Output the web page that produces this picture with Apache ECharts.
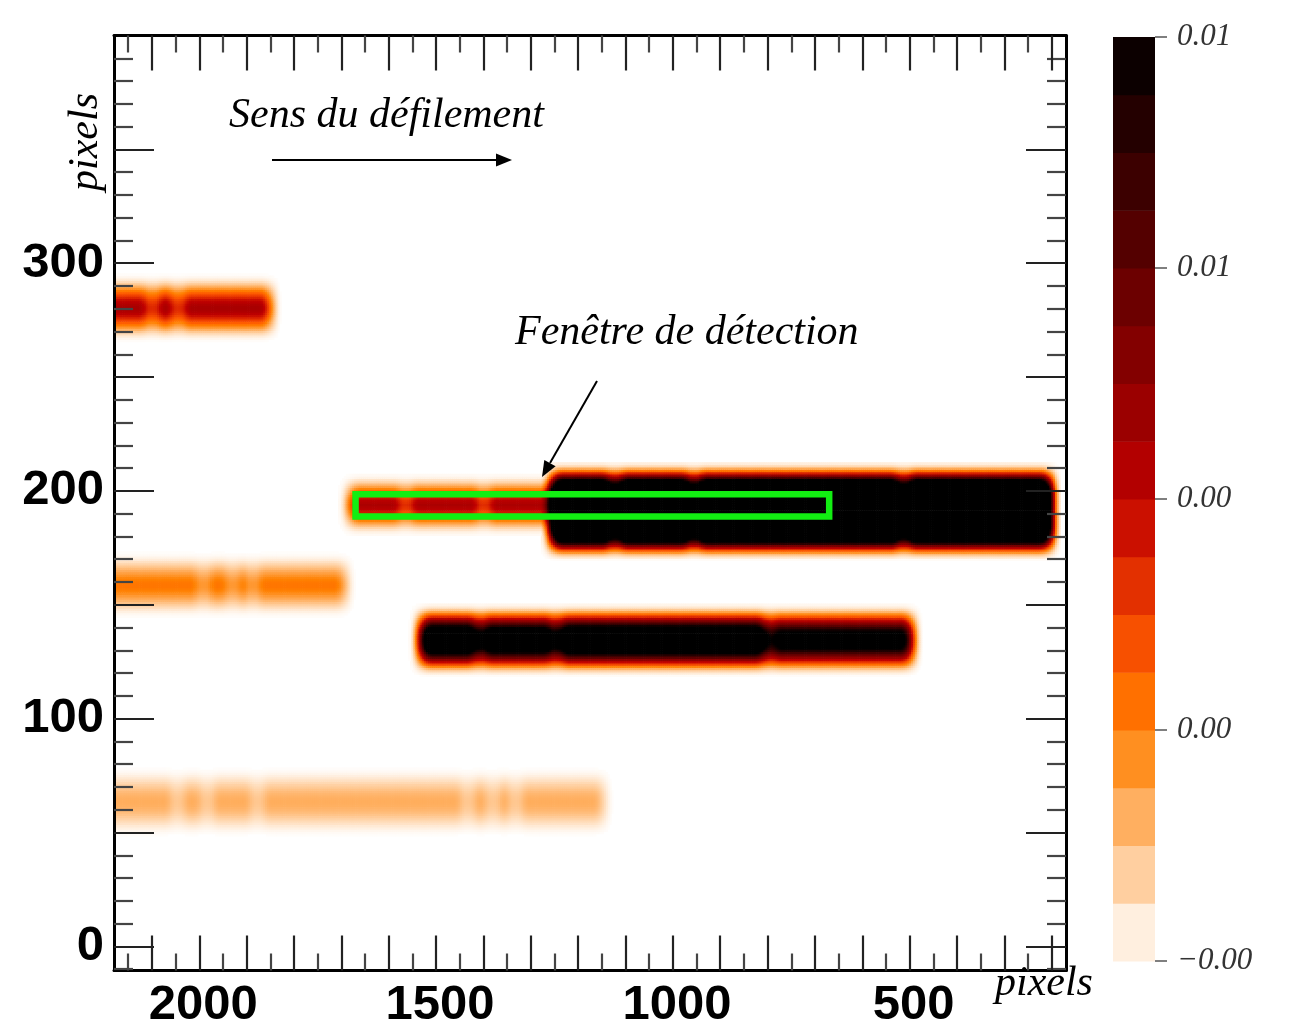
<!DOCTYPE html>
<html>
<head>
<meta charset="utf-8">
<script src="https://cdn.jsdelivr.net/npm/echarts@6/dist/echarts.min.js"></script>
<style>
html,body{margin:0;padding:0;background:#ffffff;}
#chart{width:1316px;height:1034px;}
</style>
</head>
<body>
<div id="chart"></div>
<script>
// ---------------- axes ----------------
const xRange = [170, 2180];          // pixels (axis drawn reversed)
const yRange = [-10.6, 400];
const xLabelValues = [500, 1000, 1500, 2000];
const xMajorTickValues = [200,300,400,500,600,700,800,900,1000,1100,1200,1300,1400,1500,1600,1700,1800,1900,2000,2100];
const xMinorTickValues = [250,350,450,550,650,750,850,950,1050,1150,1250,1350,1450,1550,1650,1750,1850,1950,2050,2150];
const yLabelValues = [0, 100, 200, 300];
const yMajorTickValues = [0,50,100,150,200,250,300,350];
const yMinorTickValues = [-10,10,20,30,40,60,70,80,90,110,120,130,140,160,170,180,190,210,220,230,240,260,270,280,290,310,320,330,340,360,370,380,390];

// ---------------- colour scale ----------------
const colorScaleMin = -0.0004;
const colorScaleMax = 0.0096;
const backgroundLevel = -0.0004;
const colorbarTickValues = [-0.0004, 0.0021, 0.0046, 0.0071, 0.0096];
const colorbarTickLabels = ['\u22120.00', '0.00', '0.00', '0.01', '0.01'];
const colorbarEdges = [-0.0004, 0.000225, 0.00085, 0.001475, 0.0021, 0.002725, 0.00335, 0.003975, 0.0046,
                       0.005225, 0.00585, 0.006475, 0.0071, 0.007725, 0.00835, 0.008975, 0.0096];
const heatColors = ['#ffffff','#ffdfbf','#ffbf80','#ff9f40','#ff8000','#ff6000','#ef4000','#d72000','#bf0000',
                    '#a70000','#8f0000','#780000','#600000','#480000','#300000','#180000','#000000'];

// ---------------- bands (traces) ----------------
// centre row (pixels), half thickness, and segments [xFrom, xTo, amplitude above background]
const bandCenters     = [280.4, 193.9, 191.2, 158.7, 134.6, 63.5];
const bandHalfHeights = [7, 6, 13.5, 7, 8, 8];
const bandASegments  = [[2200, 2104, 0.0058], [2096, 2049, 0.0058], [2041, 1850, 0.0058]];
const bandB1Segments = [[1684, 1569, 0.006], [1561, 1404, 0.006], [1396, 1256, 0.006]];
const bandB2Segments = [[1256, 1127, 0.021], [1119, 960, 0.021], [952, 517, 0.021], [509, 204, 0.021]];
const bandCSegments  = [[2200, 1996, 0.0028], [1988, 1934, 0.0028], [1926, 1892, 0.0028], [1884, 1692, 0.0028]];
const bandDSegments  = [[1533, 1412, 0.0145], [1406, 1249, 0.0135], [1243, 803, 0.0145], [797, 497, 0.0115]];
const bandESegments  = [[2200, 2052, 0.0016], [2042, 1989, 0.0016], [1979, 1883, 0.0016], [1873, 1439, 0.0016],
                        [1429, 1386, 0.0016], [1376, 1338, 0.0016], [1328, 1147, 0.0016]];
// soft-edge profile of the image: fraction of level vs distance inside an edge
const edgeOffsetsX = [-24, -18, -12, -6, 0, 6, 12, 18, 24];
const edgeOffsetsY = [-8, -6, -4, -2, 0, 2, 4, 6, 8];
const edgeProfile  = [0, 0.04, 0.14, 0.31, 0.5, 0.69, 0.86, 0.96, 1];
const cellWidth = 4, cellHeight = 1;

// detection window [xFrom, xTo, yLow, yHigh]
const detectionWindow = [1670, 670, 188.8, 198.5];

// ---------------- build heatmap cells ----------------
function edgeAt(offsets, d) {
  if (d <= offsets[0]) return edgeProfile[0];
  const n = offsets.length - 1;
  if (d >= offsets[n]) return edgeProfile[n];
  for (let k = 0; k < n; k++) {
    if (d <= offsets[k + 1]) {
      const f = (d - offsets[k]) / (offsets[k + 1] - offsets[k]);
      return edgeProfile[k] + f * (edgeProfile[k + 1] - edgeProfile[k]);
    }
  }
  return 1;
}
const bandSegmentLists = [bandASegments, bandB1Segments, bandB2Segments, bandCSegments, bandDSegments, bandESegments];
const yReach = -edgeOffsetsY[0], xReach = -edgeOffsetsX[0];
const cells = [];
const nx = Math.ceil((xRange[1] - xRange[0]) / cellWidth);
const ny = Math.ceil((yRange[1] - yRange[0]) / cellHeight);
for (let i = 0; i < nx; i++) {
  const x = xRange[0] + (i + 0.5) * cellWidth;
  for (let j = 0; j < ny; j++) {
    const y = yRange[0] + (j + 0.5) * cellHeight;
    let s = 0;
    for (let b = 0; b < bandCenters.length; b++) {
      const yc = bandCenters[b], h = bandHalfHeights[b];
      if (Math.abs(y - yc) > h + yReach) continue;
      const ey = edgeAt(edgeOffsetsY, y - (yc - h)) * edgeAt(edgeOffsetsY, (yc + h) - y);
      if (ey <= 0) continue;
      const segs = bandSegmentLists[b];
      for (let k = 0; k < segs.length; k++) {
        const lo = Math.min(segs[k][0], segs[k][1]), hi = Math.max(segs[k][0], segs[k][1]);
        if (x < lo - xReach || x > hi + xReach) continue;
        s += segs[k][2] * edgeAt(edgeOffsetsX, x - lo) * edgeAt(edgeOffsetsX, hi - x) * ey;
      }
    }
    if (s > 0.00004) cells.push([x, y, backgroundLevel + s]);
  }
}
const colorbarData = [];
for (let k = 0; k < colorbarEdges.length - 1; k++) {
  colorbarData.push([colorbarEdges[k], colorbarEdges[k + 1], (colorbarEdges[k] + colorbarEdges[k + 1]) / 2]);
}

// ---------------- chart ----------------
const chart = echarts.init(document.getElementById('chart'), null, { renderer: 'canvas' });
const tickFont = { fontFamily: "'Liberation Sans', Arial, sans-serif", fontWeight: 'bold', fontSize: 49, color: '#000' };
const serif = "'Liberation Serif', 'Times New Roman', serif";

function xAxisDef(position, major) {
  return {
    type: 'value', gridIndex: 0, position: position, min: xRange[0], max: xRange[1], inverse: true, z: 10,
    axisLine: { show: major, onZero: false, lineStyle: { color: '#000', width: 3 } },
    axisTick: { show: true, inside: true, length: major ? 35 : 17,
                customValues: major ? xMajorTickValues : xMinorTickValues,
                lineStyle: { color: major ? '#222' : '#444', width: 2.2 } },
    axisLabel: (major && position === 'bottom') ? Object.assign({
      show: true, customValues: xLabelValues, margin: 10, padding: [0, 0, 0, 8],
      formatter: function (v) { return String(v); } }, tickFont) : { show: false },
    splitLine: { show: false }
  };
}
function yAxisDef(position, major) {
  return {
    type: 'value', gridIndex: 0, position: position, min: yRange[0], max: yRange[1], z: 10,
    axisLine: { show: major, onZero: false, lineStyle: { color: '#000', width: 3 } },
    axisTick: { show: true, inside: true, length: major ? 40 : 19,
                customValues: major ? yMajorTickValues : yMinorTickValues,
                lineStyle: { color: major ? '#222' : '#444', width: 2.2 } },
    axisLabel: (major && position === 'left') ? Object.assign({
      show: true, customValues: yLabelValues, margin: 10,
      formatter: function (v) { return String(v); } }, tickFont) : { show: false },
    splitLine: { show: false }
  };
}

const option = {
  animation: false,
  backgroundColor: '#ffffff',
  grid: [
    { left: 114, top: 35.5, width: 952, height: 935, containLabel: false },
    { left: 1113, top: 37, width: 42, height: 924, containLabel: false }
  ],
  xAxis: [
    xAxisDef('bottom', true), xAxisDef('bottom', false), xAxisDef('top', true), xAxisDef('top', false),
    { type: 'value', gridIndex: 1, min: 0, max: 1, show: false }
  ],
  yAxis: [
    yAxisDef('left', true), yAxisDef('left', false), yAxisDef('right', true), yAxisDef('right', false),
    { type: 'value', gridIndex: 1, position: 'right', min: colorScaleMin, max: colorScaleMax,
      axisLine: { show: false, onZero: false },
      axisTick: { show: true, inside: false, length: 12, customValues: colorbarTickValues,
                  lineStyle: { color: '#555', width: 1.5 } },
      axisLabel: { show: true, customValues: colorbarTickValues, margin: 22,
                   fontFamily: serif, fontStyle: 'italic', fontSize: 31, color: '#333',
                   formatter: function (v) {
                     for (let k = 0; k < colorbarTickValues.length; k++) {
                       if (Math.abs(colorbarTickValues[k] - v) < 1e-7) return colorbarTickLabels[k];
                     }
                     return '';
                   } },
      splitLine: { show: false } }
  ],
  visualMap: [{
    type: 'continuous', show: false, seriesIndex: [0, 1], dimension: 2,
    min: colorScaleMin, max: colorScaleMax,
    inRange: { color: heatColors },
    outOfRange: { color: ['#000000'] }
  }],
  series: [
    {
      type: 'custom', xAxisIndex: 0, yAxisIndex: 0, silent: true, clip: true, progressive: 0, z: 1,
      data: cells,
      renderItem: function (params, api) {
        const c = api.coord([api.value(0), api.value(1)]);
        const s = api.size([cellWidth, cellHeight]);
        const w = Math.abs(s[0]) + 0.7, h = Math.abs(s[1]) + 0.7;
        return { type: 'rect', shape: { x: c[0] - w / 2, y: c[1] - h / 2, width: w, height: h },
                 style: { fill: api.visual('color') } };
      }
    },
    {
      type: 'custom', xAxisIndex: 4, yAxisIndex: 4, silent: true, clip: false,
      data: colorbarData,
      renderItem: function (params, api) {
        const a = api.coord([0, api.value(1)]);
        const b = api.coord([1, api.value(0)]);
        return { type: 'rect', shape: { x: Math.min(a[0], b[0]), y: Math.min(a[1], b[1]),
                 width: Math.abs(b[0] - a[0]), height: Math.abs(b[1] - a[1]) + 0.4 },
                 style: { fill: api.visual('color') } };
      }
    },
    {
      type: 'custom', xAxisIndex: 0, yAxisIndex: 0, silent: true, clip: false, z: 3,
      data: [detectionWindow],
      renderItem: function (params, api) {
        const a = api.coord([api.value(0), api.value(3)]);
        const b = api.coord([api.value(1), api.value(2)]);
        return { type: 'rect', shape: { x: Math.min(a[0], b[0]), y: Math.min(a[1], b[1]),
                 width: Math.abs(b[0] - a[0]), height: Math.abs(b[1] - a[1]) },
                 style: { fill: 'none', stroke: '#12ee12', lineWidth: 6.5 } };
      }
    }
  ],
  graphic: [
    { type: 'text', x: 229, y: 116, z: 100,
      style: { text: 'Sens du d\u00e9filement', fontFamily: serif, fontStyle: 'italic', fontSize: 42,
               fill: '#000', align: 'left', verticalAlign: 'middle' } },
    { type: 'line', z: 100, shape: { x1: 272, y1: 160, x2: 498, y2: 160 }, style: { stroke: '#000', lineWidth: 2 } },
    { type: 'polygon', z: 100, shape: { points: [[512, 160], [496, 153.5], [496, 166.5]] }, style: { fill: '#000' } },
    { type: 'text', x: 515, y: 333, z: 100,
      style: { text: 'Fen\u00eatre de d\u00e9tection', fontFamily: serif, fontStyle: 'italic', fontSize: 42,
               fill: '#000', align: 'left', verticalAlign: 'middle' } },
    { type: 'line', z: 100, shape: { x1: 597, y1: 381, x2: 550, y2: 463 }, style: { stroke: '#000', lineWidth: 2 } },
    { type: 'polygon', z: 100, shape: { points: [[542, 477], [555.6, 466.3], [544.3, 459.9]] }, style: { fill: '#000' } },
    { type: 'text', x: 995, y: 984, z: 100,
      style: { text: 'pixels', fontFamily: serif, fontStyle: 'italic', fontSize: 42,
               fill: '#000', align: 'left', verticalAlign: 'middle' } },
    { type: 'text', x: 86, y: 142, rotation: Math.PI / 2, z: 100,
      style: { text: 'pixels', fontFamily: serif, fontStyle: 'italic', fontSize: 42,
               fill: '#000', align: 'center', verticalAlign: 'middle' } }
  ]
};
chart.setOption(option);
</script>
</body>
</html>
